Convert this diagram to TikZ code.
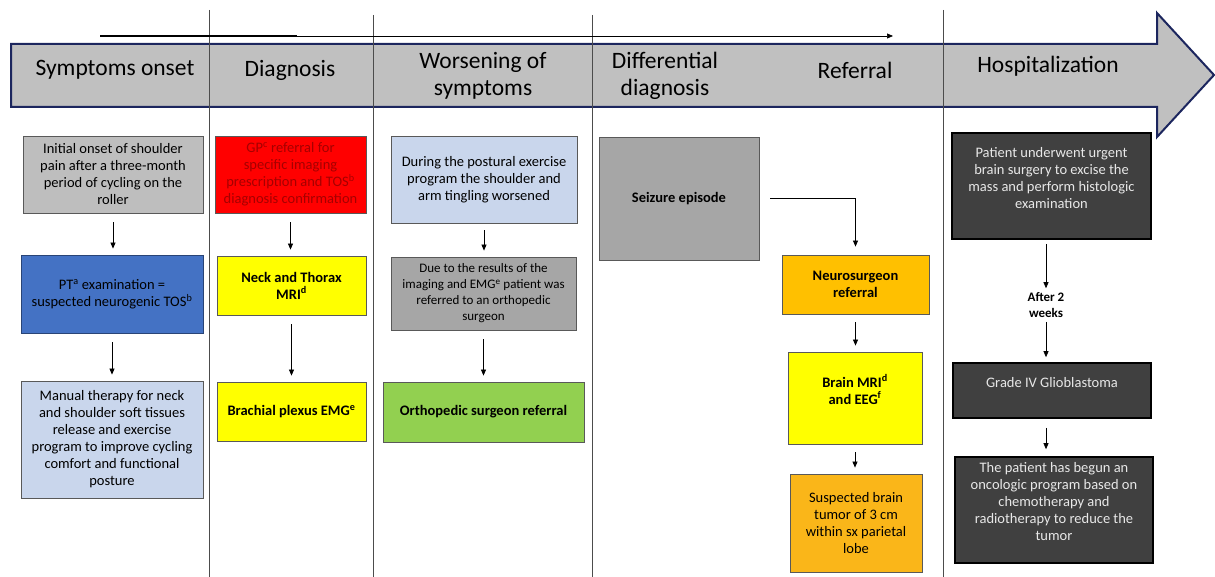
\documentclass[tikz,border=0pt]{standalone}
\usepackage{fontspec}
\setmainfont{Carlito}
\usepackage{tikz}
\usetikzlibrary{arrows.meta, positioning}
\definecolor{bandgray}{RGB}{192,192,192}
\definecolor{bandnavy}{RGB}{28,38,94}
\definecolor{lightgraybox}{RGB}{190,190,190}
\definecolor{midgraybox}{RGB}{166,166,166}
\definecolor{ptblue}{RGB}{68,114,196}
\definecolor{paleblue}{RGB}{201,214,236}
\definecolor{gpred}{RGB}{255,0,0}
\definecolor{gptext}{RGB}{165,0,0}
\definecolor{mriyellow}{RGB}{255,255,0}
\definecolor{orthogreen}{RGB}{146,208,80}
\definecolor{neuroorange}{RGB}{255,192,0}
\definecolor{tumororange}{RGB}{250,182,25}
\definecolor{darkbox}{RGB}{64,64,64}
\definecolor{darktext}{RGB}{232,232,232}

\begin{document}
\begin{tikzpicture}[x=1pt, y=-1pt,
		box/.style={draw=black!65, line width=0.8pt, align=center, inner sep=2pt,
			font=\fontsize{14.5}{17}\selectfont},
		boldbox/.style={box, font=\fontsize{14.5}{17}\selectfont\bfseries},
		darkstep/.style={box, fill=darkbox, draw=black, line width=1.6pt, text=darktext},
		phase/.style={align=center, font=\fontsize{23.5}{27}\selectfont},
		arr/.style={-{Triangle[length=6pt,width=5pt]}, line width=0.7pt,
			shorten <=9pt, shorten >=6pt},
		sepline/.style={black!70, line width=0.8pt}]
	\useasboundingbox (0,0) rectangle (1215,577);
	
	% Timeline band
	\filldraw[fill=bandgray, draw=bandnavy, line width=2pt, line join=miter]
		(11,44) -- (1157,44) -- (1157,13) -- (1214,75) -- (1157,137)
		-- (1157,107) -- (11,107) -- cycle;
	
	% Column separators
	\foreach \x/\y in {209/10, 373/15, 592/15, 943/10}
	{
		\draw[sepline] (\x,\y) -- (\x,577);
	}
	
	% Time arrow
	\coordinate (tstart) at (100,36);
	\coordinate (tthick) at (297,36);
	\coordinate (tend) at (893,36);
	\draw[line width=1.5pt] (tstart) -- (tthick);
	\draw[-{Triangle[length=6pt,width=5pt]}, line width=0.7pt] (tstart) -- (tend);
	
	% Phases
	\node[phase] (hOnset) at (115,70) {Symptoms onset};
	\node[phase] (hDiag) at (290,70) {Diagnosis};
	\node[phase] (hWorse) at (483,76) {Worsening of\\symptoms};
	\node[phase] (hDiff) at (665,76) {Differential\\diagnosis};
	\node[phase] (hRef) at (855,70) {Referral};
	\node[phase] (hHosp) at (1048,66) {Hospitalization};
	
	% Symptoms onset
	\node[box, fill=lightgraybox, minimum width=180pt, minimum height=77pt] (onset) at (113,174.5)
		{Initial onset of shoulder\\pain after a three-month\\period of cycling on the\\roller};
	\node[box, fill=ptblue, draw=ptblue!60!black, minimum width=182pt, minimum height=78pt] (ptexam) at (112,294)
		{PT\textsuperscript{a} examination =\\suspected neurogenic TOS\textsuperscript{b}};
	\node[box, fill=paleblue, minimum width=182pt, minimum height=117pt] (manual) at (112,439.5)
		{Manual therapy for neck\\and shoulder soft tissues\\release and exercise\\program to improve cycling\\comfort and functional\\posture};
	
	% Diagnosis
	\node[box, fill=gpred, text=gptext, minimum width=151pt, minimum height=77pt] (gp) at (290.5,174.5)
		{GP\textsuperscript{c} referral for\\specific imaging\\prescription and TOS\textsuperscript{b}\\diagnosis confirmation};
	\node[boldbox, fill=mriyellow, minimum width=149pt, minimum height=59pt] (neckmri) at (291.5,285.5)
		{Neck and Thorax\\MRI\textsuperscript{d}};
	\node[boldbox, fill=mriyellow, minimum width=149pt, minimum height=59pt] (emg) at (291.5,411.5)
		{Brachial plexus EMG\textsuperscript{e}};
	
	% Worsening of symptoms
	\node[box, fill=paleblue, minimum width=186pt, minimum height=87pt] (postural) at (484,179.5)
		{During the postural exercise\\program the shoulder and\\arm tingling worsened};
	\node[box, fill=midgraybox, font=\fontsize{13}{16}\selectfont, minimum width=185pt, minimum height=73pt] (results) at (483.5,293.5)
		{Due to the results of the\\imaging and EMG\textsuperscript{e} patient was\\referred to an orthopedic\\surgeon};
	\node[boldbox, fill=orthogreen, minimum width=201pt, minimum height=60pt] (ortho) at (483.5,412)
		{Orthopedic surgeon referral};
	
	% Differential diagnosis / referral
	\node[boldbox, fill=midgraybox, minimum width=160pt, minimum height=123pt] (seizure) at (679,198.5)
		{Seizure episode};
	\node[boldbox, fill=neuroorange, minimum width=147pt, minimum height=59pt] (neuro) at (855.5,284.5)
		{Neurosurgeon\\referral};
	\node[boldbox, fill=mriyellow, minimum width=134pt, minimum height=92pt] (brainmri) at (855,398)
		{Brain MRI\textsuperscript{d}\\and EEG\textsuperscript{f}\\\mbox{}};
	\node[box, fill=tumororange, minimum width=132pt, minimum height=98pt] (tumor) at (856,523)
		{Suspected brain\\tumor of 3 cm\\within sx parietal\\lobe};
	
	% Hospitalization
	\node[darkstep, minimum width=199pt, minimum height=106pt] (surgery) at (1051.5,186)
		{Patient underwent urgent\\brain surgery to excise the\\mass and perform histologic\\examination\\\mbox{}};
	\node[align=center, font=\fontsize{13}{16}\selectfont\bfseries, inner sep=1pt] (after) at (1046,305)
		{After 2\\weeks};
	\node[darkstep, minimum width=198pt, minimum height=55pt] (grade) at (1052,390.5)
		{Grade IV Glioblastoma\\\mbox{}};
	\node[darkstep, minimum width=198pt, minimum height=106pt] (onco) at (1054,510)
		{The patient has begun an\\oncologic program based on\\chemotherapy and\\radiotherapy to reduce the\\tumor\\\mbox{}};
	
	% Arrows
	\draw[arr] (onset.south) -- (onset.south |- ptexam.north);
	\draw[arr] (ptexam.south) -- (ptexam.south |- manual.north);
	\draw[arr] (gp.south) -- (gp.south |- neckmri.north);
	\draw[arr] (neckmri.south) -- (neckmri.south |- emg.north);
	\draw[arr, shorten <=7pt] (postural.south) -- (postural.south |- results.north);
	\draw[arr] (results.south) -- (results.south |- ortho.north);
	\draw[arr, shorten <=11pt, shorten >=8pt] (seizure.east) -| (neuro.north);
	\draw[arr, shorten <=8pt] (neuro.south) -- (neuro.south |- brainmri.north);
	\draw[arr, shorten <=8pt] (brainmri.south) -- (brainmri.south |- tumor.north);
	\draw[arr, shorten <=4pt, shorten >=3pt] (surgery.south -| after) -- (after.north);
	\draw[arr, shorten <=3pt, shorten >=5pt] (after.south) -- (after.south |- grade.north);
	\draw[arr, shorten >=7pt] (grade.south -| after) -- (after |- onco.north);
	
\end{tikzpicture}
\end{document}
